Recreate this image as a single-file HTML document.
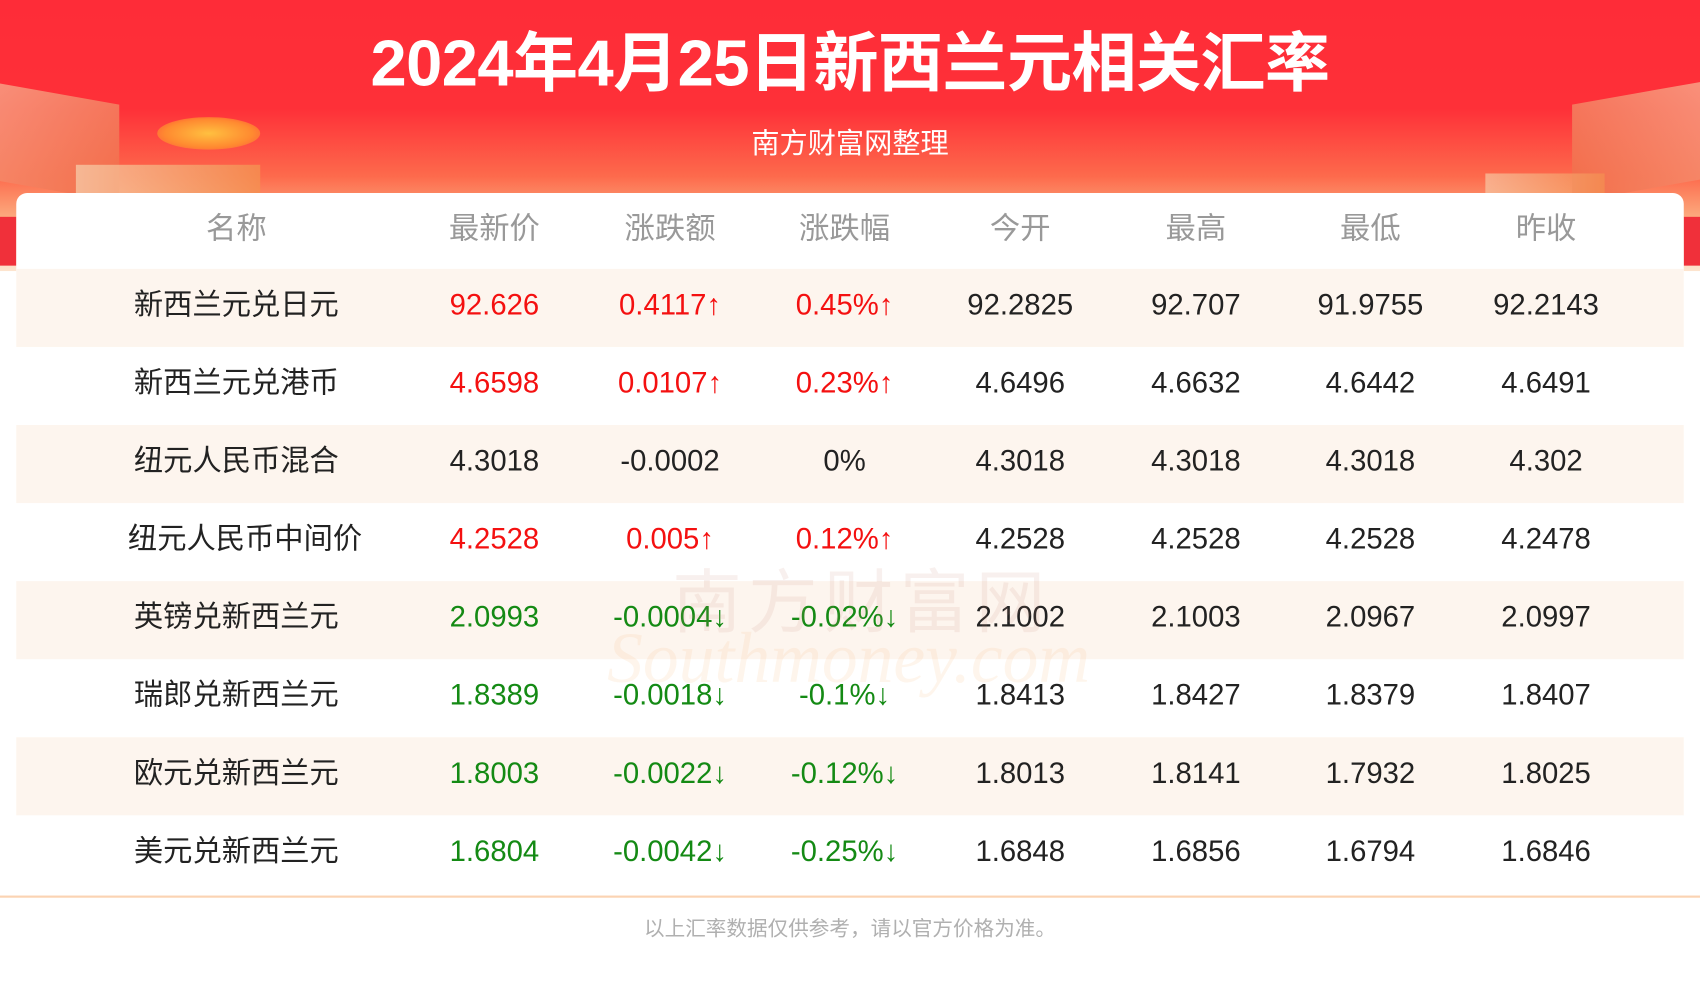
<!DOCTYPE html>
<html><head><meta charset="utf-8">
<style>
html,body{margin:0;padding:0;width:1700px;height:1000px;overflow:hidden;background:#fff;}
#wrap{position:absolute;left:0;top:0;width:1568px;height:923px;transform:scale(1.0842);transform-origin:0 0;font-family:"Liberation Sans","Noto Sans CJK SC",sans-serif;background:#fff;overflow:hidden;}
#hdr{position:absolute;left:0;top:0;width:1568px;height:250px;background:linear-gradient(180deg,#fe2c38 0%,#fe3038 40%,#fd6a4c 65%,#fbbf8e 85%,#fde4cf 100%);}
.deco{position:absolute;}
#title{position:absolute;left:0;width:1568px;top:10px;text-align:center;color:#fff;font-size:60px;font-weight:bold;letter-spacing:-0.5px;}
#sub{position:absolute;left:0;width:1568px;top:112px;text-align:center;color:#fff;font-size:26px;}
#card{position:absolute;left:15px;top:178px;width:1538px;height:648px;background:#fff;border-radius:10px 10px 0 0;}
.row{position:absolute;left:0;width:1538px;height:72px;}
.row.alt{background:#fdf5ee;}
.c{position:absolute;top:-3px;height:72px;line-height:72px;text-align:center;width:200px;margin-left:-100px;font-size:27px;color:#222;white-space:nowrap;}
.hd .c{color:#999;font-size:28px;}
.r{color:#f41010}.g{color:#148a14}
#line{position:absolute;left:0;top:826px;width:1568px;height:2px;background:#fbd3b3;}
#foot{position:absolute;left:0;width:1568px;top:842px;text-align:center;color:#b0b0b0;font-size:19px;}
#wm{position:absolute;left:620px;top:505px;font-size:64px;color:rgba(200,140,120,0.13);letter-spacing:6px;}
#wm2{position:absolute;left:560px;top:570px;font-size:66px;font-style:italic;font-family:"Liberation Serif",serif;color:rgba(250,200,150,0.18);}
</style></head><body>
<div id="wrap">
<div id="hdr">
 <div class="deco" style="left:-20px;top:85px;width:130px;height:90px;background:linear-gradient(135deg,#f9a48a,#f06a45);transform:skewY(10deg);opacity:.85"></div>
 <div class="deco" style="left:70px;top:152px;width:170px;height:45px;background:linear-gradient(90deg,#f7c7a4,#f49050);opacity:.8"></div>
 <div class="deco" style="left:145px;top:108px;width:95px;height:30px;border-radius:50%;background:radial-gradient(#ffc040,#ff8a30 60%,transparent);"></div>
 <div class="deco" style="left:1450px;top:85px;width:130px;height:90px;background:linear-gradient(225deg,#f9a48a,#f06a45);transform:skewY(-10deg);opacity:.85"></div>
 <div class="deco" style="left:1370px;top:160px;width:110px;height:30px;background:linear-gradient(90deg,#f7c7a4,#f49050);opacity:.7"></div>
 <div class="deco" style="left:0;top:200px;width:15px;height:45px;background:#f0303a"></div>
 <div class="deco" style="left:1553px;top:200px;width:15px;height:45px;background:#f0303a"></div>
</div>
<div id="title">2024年4月25日新西兰元相关汇率</div>
<div id="sub">南方财富网整理</div>
<div id="card"></div>
<div id="wm">南方财富网</div>
<div id="wm2">Southmoney.com</div>
<div id="line"></div>
<div id="foot">以上汇率数据仅供参考，请以官方价格为准。</div>
</div>
<script>
const headers=["名称","最新价","涨跌额","涨跌幅","今开","最高","最低","昨收"];
const names=["新西兰元兑日元","新西兰元兑港币","纽元人民币混合","纽元人民币中间价","英镑兑新西兰元","瑞郎兑新西兰元","欧元兑新西兰元","美元兑新西兰元"];
const latest=["92.626","4.6598","4.3018","4.2528","2.0993","1.8389","1.8003","1.6804"];
const change=["0.4117↑","0.0107↑","-0.0002","0.005↑","-0.0004↓","-0.0018↓","-0.0022↓","-0.0042↓"];
const pct=["0.45%↑","0.23%↑","0%","0.12%↑","-0.02%↓","-0.1%↓","-0.12%↓","-0.25%↓"];
const openP=["92.2825","4.6496","4.3018","4.2528","2.1002","1.8413","1.8013","1.6848"];
const highP=["92.707","4.6632","4.3018","4.2528","2.1003","1.8427","1.8141","1.6856"];
const lowP=["91.9755","4.6442","4.3018","4.2528","2.0967","1.8379","1.7932","1.6794"];
const prevP=["92.2143","4.6491","4.302","4.2478","2.0997","1.8407","1.8025","1.6846"];
const trend=["up","up","flat","up","down","down","down","down"];
const colX=[203,441,603,764,926,1088,1249,1411];
const card=document.getElementById('card');
function mk(rowEl,i,txt,cls){const d=document.createElement('div');d.className='c '+(cls||'');d.style.left=colX[i]+'px';d.textContent=txt;


rowEl.appendChild(d);}
const hr=document.createElement('div');hr.className='row hd';hr.style.top='0px';


headers.forEach((h,i)=>mk(hr,i,h));card.appendChild(hr);
names.forEach((n,r)=>{const row=document.createElement('div');row.className='row'+(r%2===0?' alt':'');row.style.top=(70+r*72)+'px';


const cc=trend[r]==='up'?'r':(trend[r]==='down'?'g':'');
mk(row,0,n);mk(row,1,latest[r],cc);mk(row,2,change[r],cc);mk(row,3,pct[r],cc);
mk(row,4,openP[r]);mk(row,5,highP[r]);mk(row,6,lowP[r]);mk(row,7,prevP[r]);
card.appendChild(row);});
</script>
</body></html>
